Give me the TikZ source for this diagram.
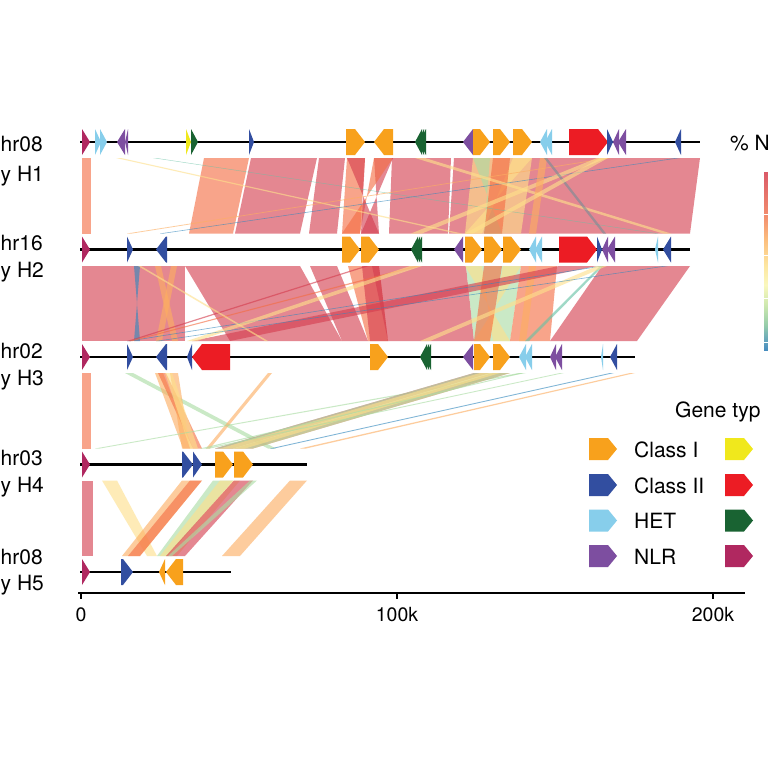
\documentclass[tikz,border=0pt]{standalone}
\usepackage{fontspec}
\setmainfont{TeX Gyre Heros}
\definecolor{gI}{RGB}{248,161,28}
\definecolor{gII}{RGB}{50,78,160}
\definecolor{gHET}{RGB}{135,206,235}
\definecolor{gNLR}{RGB}{125,78,160}
\definecolor{gY}{RGB}{240,232,28}
\definecolor{gRed}{RGB}{236,28,36}
\definecolor{gDG}{RGB}{25,99,50}
\definecolor{gMar}{RGB}{176,40,96}
\definecolor{cR}{HTML}{D53E4F}
\definecolor{cO}{HTML}{F46D43}
\definecolor{cO2}{HTML}{FDAE61}
\definecolor{cY}{HTML}{FEE08B}
\definecolor{cG}{HTML}{ABDDA4}
\definecolor{cG2}{HTML}{66C2A5}
\definecolor{cB}{HTML}{3288BD}
\definecolor{cGr}{RGB}{120,140,150}
\definecolor{b1}{RGB}{218,90,104}
\definecolor{b2}{RGB}{242,140,110}
\definecolor{b3}{RGB}{252,190,125}
\definecolor{b4}{RGB}{253,230,160}
\definecolor{b5}{RGB}{250,248,190}
\definecolor{b6}{RGB}{205,232,175}
\definecolor{b7}{RGB}{150,205,170}
\definecolor{b8}{RGB}{95,160,190}
\definecolor{b9}{RGB}{70,140,190}
\newcommand{\gr}[4]{%
 \pgfmathsetmacro{\gxb}{max(#3,#4-10)}%
 \fill[#1] (#3,{#2-13}) -- (\gxb,{#2-13}) -- (#4,#2) -- (\gxb,{#2+13}) -- (#3,{#2+13}) -- cycle;}
\newcommand{\gl}[4]{%
 \pgfmathsetmacro{\gxb}{min(#4,#3+10)}%
 \fill[#1] (#4,{#2-13}) -- (\gxb,{#2-13}) -- (#3,#2) -- (\gxb,{#2+13}) -- (#4,{#2+13}) -- cycle;}
\newcommand{\lk}[7]{%
 \fill[#1, fill opacity=0.62] (#4,#2) -- (#5,#2) -- (#7,#3) -- (#6,#3) -- cycle;}
\newcommand{\lgkey}[3]{%
 \fill[#1] (#2,{#3-11}) -- ({#2+19},{#3-11}) -- ({#2+28},#3) -- ({#2+19},{#3+11}) -- (#2,{#3+11}) -- cycle;}
\begin{document}
\begin{tikzpicture}[x=1pt,y=-1pt,
  trk/.style={line width=2.1pt, black},
  lab/.style={inner sep=0pt, font=\fontsize{21}{24}\selectfont},
  tick/.style={inner sep=0pt, font=\fontsize{19.5}{22}\selectfont}]
\useasboundingbox (0,0) rectangle (768,768);
\fill[white] (0,0) rectangle (768,768);
% ---------------- links H1 - H2 (158 -> 233.5)
\def\ta{158}\def\tb{233.5}
\lk{cO}{\ta}{\tb}{82}{91}{82}{91}
\lk{cO}{\ta}{\tb}{204}{249}{189}{233}
\lk{cR}{\ta}{\tb}{251}{317}{235}{300}
\lk{cR}{\ta}{\tb}{319}{345}{309}{337}
\lk{cO}{\ta}{\tb}{347}{365}{342}{360}
\lk{cR}{\ta}{\tb}{374}{393}{379}{361}
\lk{cO}{\ta}{\tb}{374}{393}{360}{342}
\lk{cR}{\ta}{\tb}{347}{365}{379}{361}
\lk{cR}{\ta}{\tb}{392}{451}{389}{448}
\lk{cR}{\ta}{\tb}{454}{700}{449}{690}
\lk{cY}{\ta}{\tb}{473}{532}{465}{521}
\lk{cG}{\ta}{\tb}{473}{490}{502}{484}
\lk{cY}{\ta}{\tb}{513}{532}{482}{465}
\lk{cO}{\ta}{\tb}{493}{510}{484}{502}
\lk{cY}{\ta}{\tb}{116}{121}{456}{462}
\lk{cG2}{\ta}{\tb}{153}{156}{655}{658}
\lk{cO2}{\ta}{\tb}{607}{612}{127}{132}
\lk{cB}{\ta}{\tb}{676}{680}{160}{164}
\lk{cY}{\ta}{\tb}{415}{425}{663}{671}
\lk{cY}{\ta}{\tb}{597}{607}{411}{422}
\lk{cO2}{\ta}{\tb}{540}{547}{529}{536}
\lk{cGr}{\ta}{\tb}{544}{547}{603}{606}
\lk{cY}{\ta}{\tb}{600}{608}{465}{473}
% ---------------- links H2 - H3 (266 -> 341)
\def\ta{266}\def\tb{341}
\lk{cR}{\ta}{\tb}{82}{185}{82}{185}
\lk{cB}{\ta}{\tb}{134}{140}{140}{134}
\lk{cO2}{\ta}{\tb}{155}{161}{172}{178}
\lk{cO2}{\ta}{\tb}{171}{177}{156}{162}
\lk{cR}{\ta}{\tb}{185}{300}{230}{342}
\lk{cR}{\ta}{\tb}{310}{337}{342}{368}
\lk{cO}{\ta}{\tb}{348}{379}{368}{388}
\lk{cR}{\ta}{\tb}{362}{379}{370}{388}
\lk{cR}{\ta}{\tb}{372}{466}{388}{474}
\lk{cG}{\ta}{\tb}{466}{521}{474}{510}
\lk{cY}{\ta}{\tb}{465}{482}{510}{493}
\lk{cY}{\ta}{\tb}{503}{521}{490}{474}
\lk{cO}{\ta}{\tb}{484}{502}{474}{490}
\lk{cO}{\ta}{\tb}{521}{557}{510}{550}
\lk{cO2}{\ta}{\tb}{529}{536}{519}{526}
\lk{cR}{\ta}{\tb}{602}{690}{550}{637}
\lk{cR}{\ta}{\tb}{559}{597}{192}{230}
\lk{cG2}{\ta}{\tb}{600}{603}{525}{529}
\lk{cB}{\ta}{\tb}{600}{604}{127}{131}
\lk{cR}{\ta}{\tb}{365}{369}{127}{131}
\lk{cO}{\ta}{\tb}{415}{420}{129}{133}
\lk{cY}{\ta}{\tb}{410}{422}{187}{197}
\lk{cY}{\ta}{\tb}{138}{141}{265}{268}
\lk{cY}{\ta}{\tb}{597}{607}{420}{430}
\lk{cB}{\ta}{\tb}{664}{668}{156}{160}
% ---------------- links H3 - H4 (373 -> 448.5)
\def\ta{373}\def\tb{448.5}
\lk{cO}{\ta}{\tb}{82}{91}{82}{91}
\lk{cG}{\ta}{\tb}{125}{133}{268}{276}
\lk{cO2}{\ta}{\tb}{155}{163}{183}{193}
\lk{cO}{\ta}{\tb}{158}{166}{193}{202}
\lk{cO2}{\ta}{\tb}{170}{178}{182}{190}
\lk{cY}{\ta}{\tb}{165}{172}{190}{198}
\lk{cO2}{\ta}{\tb}{268}{272}{206}{210}
\lk{cG}{\ta}{\tb}{519}{526}{95}{100}
\lk{cR}{\ta}{\tb}{474}{490}{215}{233}
\lk{cO}{\ta}{\tb}{493}{510}{234}{253}
\lk{cG}{\ta}{\tb}{474}{510}{215}{253}
\lk{cY}{\ta}{\tb}{480}{500}{220}{245}
\lk{cG}{\ta}{\tb}{520}{524}{200}{205}
\lk{cG}{\ta}{\tb}{560}{564}{205}{210}
\lk{cB}{\ta}{\tb}{610}{614}{270}{274}
\lk{cO2}{\ta}{\tb}{630}{635}{300}{306}
% ---------------- links H4 - H5 (480.5 -> 556)
\def\ta{480.5}\def\tb{556}
\lk{cR}{\ta}{\tb}{82}{93}{82}{93}
\lk{cY}{\ta}{\tb}{102}{117}{147}{157}
\lk{cO2}{\ta}{\tb}{182}{202}{122}{140}
\lk{cO}{\ta}{\tb}{190}{202}{128}{140}
\lk{cG}{\ta}{\tb}{213}{233}{157}{168}
\lk{cY}{\ta}{\tb}{220}{240}{160}{177}
\lk{cR}{\ta}{\tb}{234}{253}{166}{185}
\lk{cG}{\ta}{\tb}{250}{257}{168}{172}
\lk{cO2}{\ta}{\tb}{290}{307}{222}{240}
% ---------------- backbones
\draw[trk] (80,142) -- (700,142);
\draw[trk] (80,249.5) -- (690,249.5);
\draw[trk] (80,357) -- (635,357);
\draw[trk] (80,464.5) -- (307,464.5);
\draw[trk] (80,572) -- (231,572);
% ---------------- genes track 1
\def\ty{142}
\gr{gMar}{\ty}{82}{90}
\gr{gHET}{\ty}{95}{101}
\gr{gHET}{\ty}{100}{107}
\gl{gNLR}{\ty}{117}{125}
\gl{gNLR}{\ty}{125}{128}
\gr{gY}{\ty}{186}{191}
\gr{gDG}{\ty}{191}{198}
\gr{gII}{\ty}{249}{254}
\gr{gI}{\ty}{346}{365}
\gl{gI}{\ty}{374}{393}
\gl{gDG}{\ty}{415}{422}
\gl{gDG}{\ty}{417}{424}
\gl{gDG}{\ty}{419}{426}
\gl{gNLR}{\ty}{463}{473}
\gr{gI}{\ty}{473}{490}
\gr{gI}{\ty}{493}{510}
\gr{gI}{\ty}{513}{532}
\gl{gHET}{\ty}{540}{547}
\gl{gHET}{\ty}{545}{552}
\gr{gRed}{\ty}{569}{608}
\gr{gII}{\ty}{607}{613}
\gl{gNLR}{\ty}{613}{619}
\gl{gNLR}{\ty}{618}{626}
\gl{gII}{\ty}{675}{681}
% ---------------- genes track 2
\def\ty{249.5}
\gr{gMar}{\ty}{82}{90}
\gr{gII}{\ty}{127}{133}
\gl{gII}{\ty}{156}{167}
\gr{gI}{\ty}{342}{360}
\gr{gI}{\ty}{361}{379}
\gl{gDG}{\ty}{411}{418}
\gl{gDG}{\ty}{413}{420}
\gl{gDG}{\ty}{415}{422}
\gl{gNLR}{\ty}{454}{463}
\gr{gI}{\ty}{465}{482}
\gr{gI}{\ty}{484}{502}
\gr{gI}{\ty}{503}{521}
\gl{gHET}{\ty}{529}{536}
\gl{gHET}{\ty}{535}{542}
\gr{gRed}{\ty}{559}{597}
\gr{gII}{\ty}{597}{602}
\gl{gNLR}{\ty}{602}{608}
\gl{gNLR}{\ty}{607}{615}
\gl{gHET}{\ty}{655}{658}
\gl{gII}{\ty}{663}{671}
% ---------------- genes track 3
\def\ty{357}
\gr{gMar}{\ty}{82}{90}
\gr{gII}{\ty}{127}{133}
\gl{gII}{\ty}{156}{167}
\gl{gII}{\ty}{187}{192}
\gl{gRed}{\ty}{192}{230}
\gr{gI}{\ty}{370}{388}
\gl{gDG}{\ty}{420}{427}
\gl{gDG}{\ty}{422}{429}
\gl{gDG}{\ty}{424}{431}
\gl{gNLR}{\ty}{463}{473}
\gr{gI}{\ty}{474}{490}
\gr{gI}{\ty}{493}{510}
\gl{gHET}{\ty}{519}{526}
\gl{gHET}{\ty}{525}{532}
\gl{gNLR}{\ty}{550}{556}
\gl{gNLR}{\ty}{555}{562}
\gl{gHET}{\ty}{601}{603}
\gl{gII}{\ty}{610}{617}
% ---------------- genes track 4
\def\ty{464.5}
\gr{gMar}{\ty}{82}{90}
\gr{gII}{\ty}{182}{193}
\gr{gII}{\ty}{193}{202}
\gr{gI}{\ty}{215}{233}
\gr{gI}{\ty}{234}{253}
% ---------------- genes track 5
\def\ty{572}
\gr{gMar}{\ty}{82}{90}
\gr{gII}{\ty}{121}{133}
\gl{gI}{\ty}{159}{165}
\gl{gI}{\ty}{166}{183}
% ---------------- labels
\node[lab, anchor=base west] (n1) at (0.5,151) {hr08};
\node[lab, anchor=base west] (s1) at (0.5,181.5) {y H1};
\node[lab, anchor=base west] (n2) at (0.5,250.5) {hr16};
\node[lab, anchor=base west] (s2) at (0.5,277.5) {y H2};
\node[lab, anchor=base west] (n3) at (0.5,358.5) {hr02};
\node[lab, anchor=base west] (s3) at (0.5,385.5) {y H3};
\node[lab, anchor=base west] (n4) at (0.5,465.5) {hr03};
\node[lab, anchor=base west] (s4) at (0.5,492.5) {y H4};
\node[lab, anchor=base west] (n5) at (0.5,564.5) {hr08};
\node[lab, anchor=base west] (s5) at (0.5,590.5) {y H5};
% ---------------- axis
\draw[line width=1.1pt] (78,593) -- (745,593);
\foreach \xx in {81,397,713} \draw[line width=1.1pt] (\xx,593) -- (\xx,599);
\node[tick, anchor=base] (t0) at (81,621) {0};
\node[tick, anchor=base] (t1) at (397,621) {100k};
\node[tick, anchor=base] (t2) at (713,621) {200k};
% ---------------- colour bar
\node[lab, anchor=base west] (pt) at (730,150) {\% N};
\shade[top color=b1, bottom color=b2] (764,172) rectangle (772,215);
\shade[top color=b2, bottom color=b3] (764,215) rectangle (772,240);
\shade[top color=b3, bottom color=b4] (764,240) rectangle (772,265);
\shade[top color=b4, bottom color=b5] (764,265) rectangle (772,285);
\shade[top color=b5, bottom color=b6] (764,285) rectangle (772,305);
\shade[top color=b6, bottom color=b7] (764,305) rectangle (772,325);
\shade[top color=b7, bottom color=b8] (764,325) rectangle (772,342);
\shade[top color=b8, bottom color=b9] (764,342) rectangle (772,350);
\foreach \yy in {214,255,298,342} \draw[white, line width=0.8pt] (764,\yy) -- (772,\yy);
% ---------------- gene type legend
\node[lab, anchor=base west] (gt) at (675,417) {Gene typ};
\lgkey{gI}{589}{449}
\lgkey{gII}{589}{485}
\lgkey{gHET}{589}{520.5}
\lgkey{gNLR}{589}{556}
\lgkey{gY}{725}{449}
\lgkey{gRed}{725}{485}
\lgkey{gDG}{725}{520.5}
\lgkey{gMar}{725}{556}
\node[lab, anchor=base west] (k1) at (634,457) {Class I};
\node[lab, anchor=base west] (k2) at (634,493) {Class II};
\node[lab, anchor=base west] (k3) at (634,528.5) {HET};
\node[lab, anchor=base west] (k4) at (634,564) {NLR};
\end{tikzpicture}
\end{document}
